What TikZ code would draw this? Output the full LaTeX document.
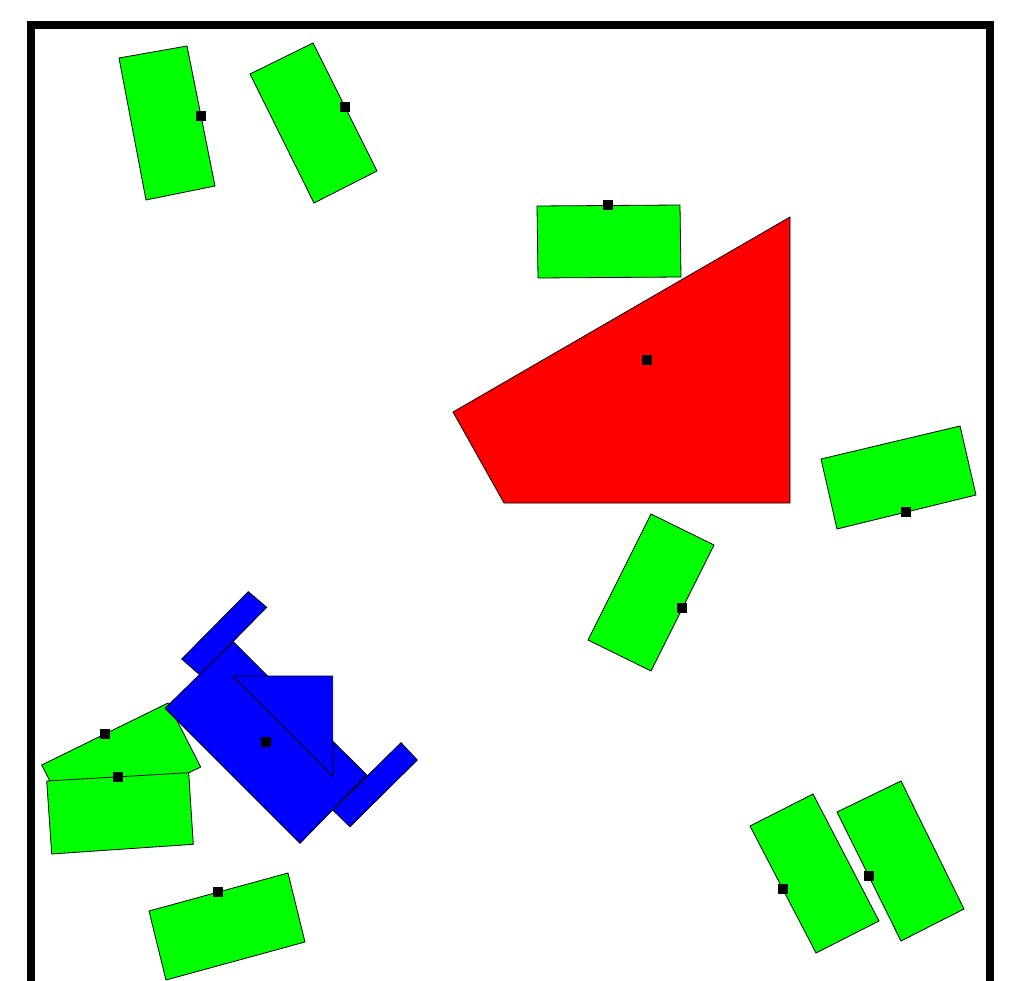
\documentclass[tikz,border=0pt]{standalone}
\begin{document}
\begin{tikzpicture}[x=1pt,y=-1pt,
  gbox/.style={fill={rgb,255:red,0;green,255;blue,0},draw=black,line width=0.8pt},
  rpoly/.style={fill={rgb,255:red,255;green,0;blue,0},draw=black,line width=0.8pt},
  bpart/.style={fill={rgb,255:red,0;green,0;blue,255},draw=black,line width=0.8pt},
  marker/.style={fill=black,draw=none,minimum size=10pt,inner sep=0pt,outer sep=0pt,shape=rectangle},
  frame/.style={draw=black,line width=8pt,line join=miter}]
\useasboundingbox (0,0) rectangle (1025,981);
\fill[white] (0,0) rectangle (1025,981);
\draw[frame] (31.3,1100) -- (31.3,24.7) -- (990.2,24.7) -- (990.2,1100);
% green boxes
\draw[gbox] (119,58) -- (187,46) -- (215,186) -- (146,200) -- cycle;
\node[marker] (mA) at (201,116) {};
\draw[gbox] (250,74) -- (313,43) -- (377,171) -- (314,203) -- cycle;
\node[marker] (mB) at (345,107) {};
\draw[gbox] (537,206) -- (680,205) -- (681,277) -- (538,278) -- cycle;
\node[marker] (mC) at (608,205) {};
\draw[rpoly] (453,412) -- (790,217) -- (790,503) -- (504,503) -- cycle;
\node[marker] (mR) at (647,360) {};
\draw[gbox] (821,459) -- (960,426) -- (976,495) -- (837,529) -- cycle;
\node[marker] (mD) at (906,512) {};
\draw[gbox] (651,514) -- (714,545) -- (651,671) -- (588,640) -- cycle;
\node[marker] (mE) at (682,608) {};
\draw[gbox] (750,826) -- (813,794) -- (879,921) -- (816,953) -- cycle;
\node[marker] (mF) at (783,889) {};
\draw[gbox] (837,812) -- (901,781) -- (964,909) -- (901,941) -- cycle;
\node[marker] (mG) at (869,876) {};
\draw[gbox] (149,911) -- (288,873) -- (305,942) -- (166,980) -- cycle;
\node[marker] (mH) at (218,892) {};
% bottom-left pair
\draw[gbox] (41.7,765) -- (168,703) -- (200.7,767) -- (74.4,829) -- cycle;
\node[marker] (mI) at (105,734) {};
\draw[gbox] (46.7,781) -- (188.7,772.7) -- (193.3,844.3) -- (51.7,854) -- cycle;
\node[marker] (mJ) at (118,777) {};
% blue robot
\draw[bpart] (181.7,659) -- (248.3,591.7) -- (266.7,607.3) -- (200,675) -- cycle;
\draw[bpart] (332.7,810) -- (401,742.7) -- (417.3,760) -- (350,826.7) -- cycle;
\draw[bpart] (165,708.3) -- (233.3,641.7) -- (366.7,775) -- (300,843.3) -- cycle;
\draw[bpart] (232.7,676) -- (332.7,676) -- (332.7,776) -- cycle;
\node[marker] (mK) at (266,742) {};
\end{tikzpicture}
\end{document}
